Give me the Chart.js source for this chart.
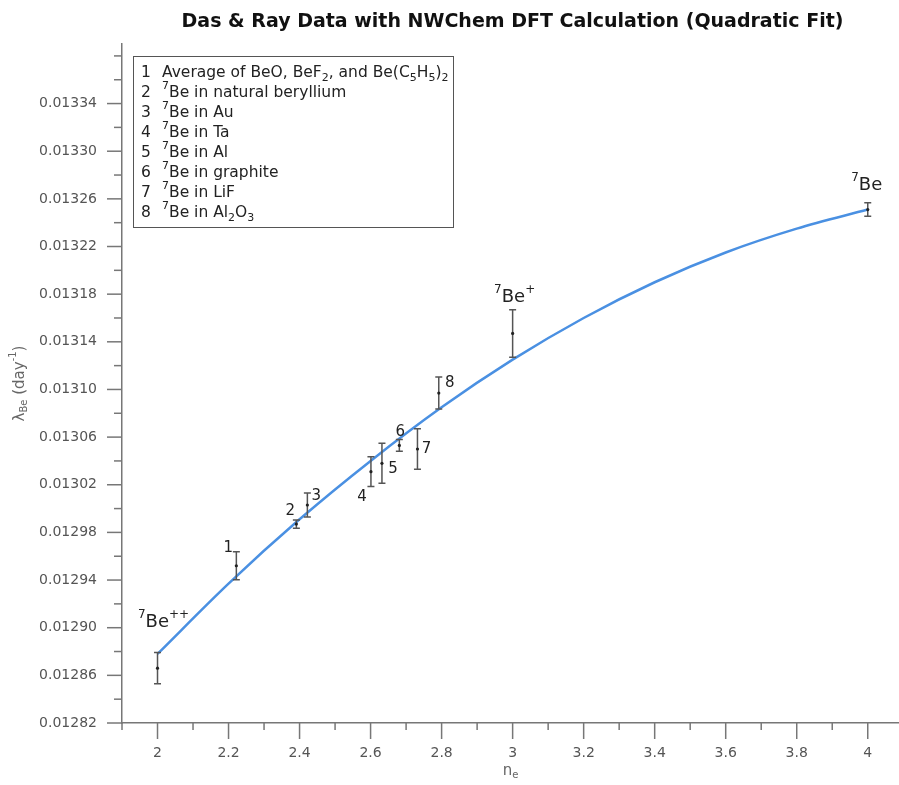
<!DOCTYPE html>
<html>
<head>
<meta charset="utf-8">
<script src="https://cdn.jsdelivr.net/npm/chart.js@4.4.1/dist/chart.umd.min.js"></script>
<style>
  html,body{margin:0;padding:0;background:#fff;}
</style>
</head>
<body>
<canvas id="chart" width="899" height="785"></canvas>
<script>
// measured points (n_e, decay constant, error)
const pointLabels = ['^{7}Be^{++}','1','2','3','4','5','6','7','8','^{7}Be^{+}','^{7}Be'];
const nValues = [2.000, 2.222, 2.391, 2.422, 2.601, 2.632, 2.681, 2.732, 2.792, 3.000, 4.000];
const lambdaValues = [0.012866, 0.012952, 0.012987, 0.013003, 0.013031, 0.013038, 0.013053, 0.013050, 0.013097, 0.013147, 0.013251];
const lambdaErrors = [0.0000131, 0.0000118, 0.0000035, 0.0000101, 0.0000125, 0.0000168, 0.0000049, 0.0000170, 0.0000135, 0.0000200, 0.0000057];

// quadratic fit curve
const fitN = [2.0, 2.2, 2.4, 2.6, 2.8, 3.0, 3.2, 3.4, 3.6, 3.8, 4.0];
const fitLambda = [0.012878, 0.012937, 0.012991, 0.013040, 0.013085, 0.013125, 0.013160, 0.013190, 0.013215, 0.013235, 0.013251];

const legendLines = [
  ['1', 'Average of BeO, BeF_{2}, and Be(C_{5}H_{5})_{2}'],
  ['2', '^{7}Be in natural beryllium'],
  ['3', '^{7}Be in Au'],
  ['4', '^{7}Be in Ta'],
  ['5', '^{7}Be in Al'],
  ['6', '^{7}Be in graphite'],
  ['7', '^{7}Be in LiF'],
  ['8', '^{7}Be in Al_{2}O_{3}']
];

// label offsets from each point, px
const labelOffsets = [[6,-46],[-8,-18],[-6,-13],[9,-9],[-9,25],[11,6],[1,-13],[9,0],[11,-10],[2,-36],[-1,-24]];

const FONT = '"DejaVu Sans", "Liberation Sans", sans-serif';
const Y_MIN = 0.01282, Y_STEP = 0.00002;

function yMajor(v){
  const k = Math.round((v - Y_MIN) / Y_STEP);
  return k % 2 === 0 && v < 0.01336;
}
function xMajor(v){
  return Math.round(v * 10) % 2 === 0;
}

// tiny rich text: ^{..} superscript, _{..} subscript
function richParts(str){
  const out = [];
  const re = /([\^_])\{([^}]*)\}|([^\^_]+)/g;
  let m;
  while((m = re.exec(str))){
    if(m[3]) out.push({t:m[3], k:'n'});
    else out.push({t:m[2], k: m[1] === '^' ? 'sup' : 'sub'});
  }
  return out;
}
function richWidth(ctx, str, size){
  let w = 0;
  richParts(str).forEach(p => {
    ctx.font = (p.k === 'n' ? size : Math.round(size*0.68)) + 'px ' + FONT;
    w += ctx.measureText(p.t).width;
  });
  return w;
}
function drawRich(ctx, str, x, y, size, align){
  let w = richWidth(ctx, str, size);
  let cx = align === 'center' ? x - w/2 : (align === 'right' ? x - w : x);
  ctx.textBaseline = 'middle';
  ctx.textAlign = 'left';
  richParts(str).forEach(p => {
    const s = p.k === 'n' ? size : Math.round(size*0.68);
    ctx.font = s + 'px ' + FONT;
    const dy = p.k === 'sup' ? -size*0.42 : (p.k === 'sub' ? size*0.32 : 0);
    ctx.fillText(p.t, cx, y + dy);
    cx += ctx.measureText(p.t).width;
  });
}

const decorations = {
  id: 'decorations',
  afterDraw(chart){
    const {ctx, chartArea:a, scales:{x, y}} = chart;
    ctx.save();

    // tick marks
    ctx.strokeStyle = '#777';
    ctx.lineWidth = 1.5;
    y.ticks.forEach(t => {
      const py = y.getPixelForValue(t.value);
      const len = yMajor(t.value) ? 15 : 8;
      ctx.beginPath(); ctx.moveTo(a.left - len, py); ctx.lineTo(a.left, py); ctx.stroke();
    });
    x.ticks.forEach(t => {
      const px = x.getPixelForValue(t.value);
      const len = xMajor(t.value) ? 16 : 7;
      ctx.beginPath(); ctx.moveTo(px, a.bottom); ctx.lineTo(px, a.bottom + len); ctx.stroke();
    });

    // error bars
    ctx.strokeStyle = '#555';
    ctx.lineWidth = 1.5;
    nValues.forEach((n, i) => {
      const px = x.getPixelForValue(n);
      const top = y.getPixelForValue(lambdaValues[i] + lambdaErrors[i]);
      const bot = y.getPixelForValue(lambdaValues[i] - lambdaErrors[i]);
      ctx.beginPath();
      ctx.moveTo(px, top); ctx.lineTo(px, bot);
      ctx.moveTo(px - 3.5, top); ctx.lineTo(px + 3.5, top);
      ctx.moveTo(px - 3.5, bot); ctx.lineTo(px + 3.5, bot);
      ctx.stroke();
      ctx.fillStyle = '#222';
      ctx.beginPath(); ctx.arc(px, y.getPixelForValue(lambdaValues[i]), 1.6, 0, Math.PI*2); ctx.fill();
    });

    // point labels
    ctx.fillStyle = '#222';
    pointLabels.forEach((lab, i) => {
      const px = x.getPixelForValue(nValues[i]) + labelOffsets[i][0];
      const py = y.getPixelForValue(lambdaValues[i]) + labelOffsets[i][1];
      const size = lab.indexOf('Be') >= 0 ? 18 : 15;
      drawRich(ctx, lab, px, py, size, 'center');
    });

    // legend box
    const lx = a.left + 11, ly = a.top + 12;
    ctx.strokeStyle = '#555';
    ctx.lineWidth = 1;
    ctx.strokeRect(lx + 0.5, ly + 0.5, 320, 171);
    ctx.fillStyle = '#222';
    legendLines.forEach((ln, i) => {
      const yy = ly + 17 + i * 20;
      drawRich(ctx, ln[0], lx + 8, yy, 15.5, 'left');
      drawRich(ctx, ln[1], lx + 29, yy, 15.5, 'left');
    });

    // title
    ctx.fillStyle = '#111';
    ctx.font = 'bold 19px ' + FONT;
    ctx.textAlign = 'center';
    ctx.textBaseline = 'middle';
    ctx.fillText('Das & Ray Data with NWChem DFT Calculation (Quadratic Fit)', (a.left + a.right)/2 + 2, 22);

    // axis titles
    ctx.fillStyle = '#666';
    drawRich(ctx, 'n_{e}', (a.left + a.right)/2, 771, 15, 'center');
    ctx.save();
    ctx.translate(20, (a.top + a.bottom)/2);
    ctx.rotate(-Math.PI/2);
    drawRich(ctx, 'λ_{Be} (day^{-1})', 0, 0, 15, 'center');
    ctx.restore();

    ctx.restore();
  }
};

new Chart(document.getElementById('chart'), {
  type: 'scatter',
  data: {
    datasets: [
      {
        label: 'Quadratic fit',
        data: fitN.map((n, i) => ({x: n, y: fitLambda[i]})),
        showLine: true,
        borderColor: '#4a90e2',
        borderWidth: 2.5,
        pointRadius: 0,
        cubicInterpolationMode: 'monotone',
        fill: false
      },
      {
        label: 'Das & Ray',
        data: nValues.map((n, i) => ({x: n, y: lambdaValues[i]})),
        pointRadius: 0,
        showLine: false
      }
    ]
  },
  options: {
    responsive: false,
    animation: false,
    layout: {padding: {top: 44, right: 0, bottom: 0, left: 0}},
    plugins: {legend: {display: false}, tooltip: {enabled: false}, title: {display: false}},
    scales: {
      x: {
        type: 'linear', min: 1.9, max: 4.088,
        afterFit: s => { s.height = 62; },
        border: {color: '#777', width: 1.5},
        grid: {drawOnChartArea: false, tickLength: 16, tickColor: 'rgba(0,0,0,0)'},
        ticks: {
          stepSize: 0.1, maxTicksLimit: 100, includeBounds: false, autoSkip: false, maxRotation: 0,
          padding: 6, color: '#555', font: {family: FONT, size: 14},
          callback: v => xMajor(v) ? String(Number(v.toFixed(1))) : ''
        }
      },
      y: {
        type: 'linear', min: 0.01282, max: 0.01339,
        afterFit: s => { s.width = 122; },
        border: {color: '#777', width: 1.5},
        grid: {drawOnChartArea: false, tickLength: 15, tickColor: 'rgba(0,0,0,0)'},
        ticks: {
          stepSize: 0.00002, maxTicksLimit: 100, includeBounds: false, autoSkip: false,
          padding: 10, color: '#555', font: {family: FONT, size: 14},
          callback: v => yMajor(v) ? v.toFixed(5) : ''
        }
      }
    }
  },
  plugins: [decorations]
});
</script>
</body>
</html>
